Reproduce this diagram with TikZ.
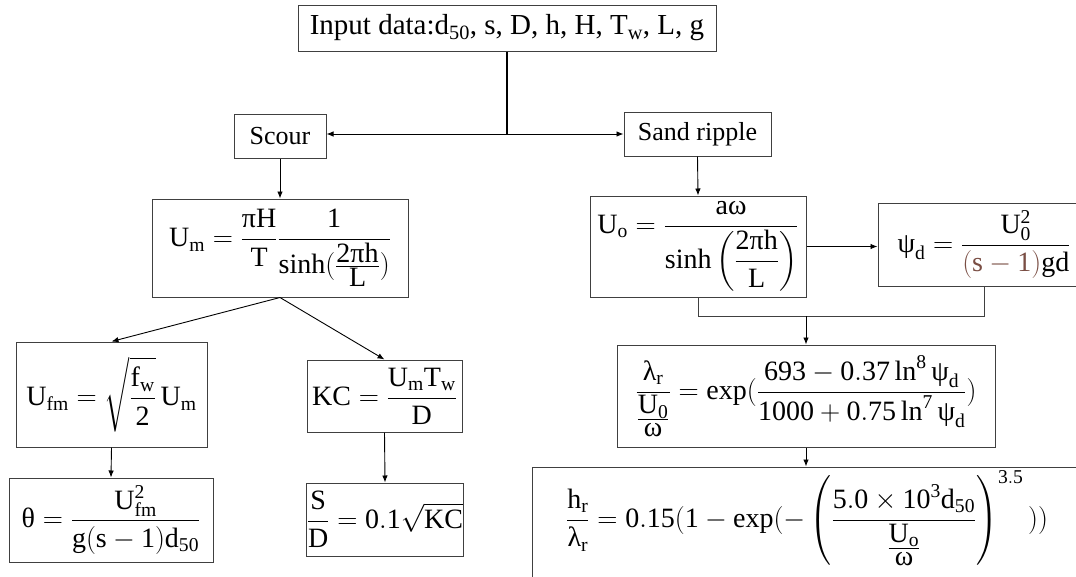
\RequirePackage{fix-cm}
\documentclass[tikz,border=0pt]{standalone}
\usepackage{amsmath}
\usepackage{fontspec}
\setmainfont{Liberation Serif}
\usetikzlibrary{arrows.meta}
\definecolor{edge}{HTML}{404040}
\definecolor{paren}{HTML}{7A4E44}
% upright Greek letters taken from the text font
\newcommand{\gk}[1]{\text{#1}}
% numbers and function names set in the text face
\newcommand{\nm}[1]{\mathrm{#1}}
\newcommand{\fn}[1]{\mathop{\mathrm{#1}}\nolimits}
% compact fraction with full-size numerator and denominator
\newcommand{\cfr}[2]{\tfrac{\textstyle #1}{\textstyle #2}}
\begin{document}
\begin{tikzpicture}[x=1pt, y=-1pt,
  box/.style={draw=edge, line width=1pt, inner sep=0pt, font=\fontsize{28}{34}\selectfont},
  lbl/.style={box, font=\fontsize{26}{30}\selectfont},
  conn/.style={line width=0.9pt, -{Latex[length=7pt,width=5.5pt]}},
  plain/.style={line width=0.9pt, draw=edge}]
\useasboundingbox (0,0) rectangle (1076,576);
\clip (0,0) rectangle (1076,576);

% input data
\node[lbl, font=\fontsize{29}{32}\selectfont, minimum width=418pt, minimum height=46pt] (inp) at (507,28)
  {Input data:d$_{\nm{50}}$, s, D, h, H, T$_{\mathrm{w}}$, L, g};

% two branches
\node[lbl, minimum width=92pt, minimum height=44pt] (scour) at (280,136) {Scour};
\node[lbl, minimum width=147pt, minimum height=44pt] (sand) at (697.5,134) {Sand ripple};

% scour branch
\node[box, minimum width=256pt, minimum height=98pt] (um) at (280,248)
  {$\mathrm{U_m} = \dfrac{\gk{π}\mathrm{H}}{\mathrm{T}}\dfrac{\nm{1}}{\fn{sinh}(\cfr{\nm{2}\gk{π}\mathrm{h}}{\mathrm{L}})}$};
\node[box, minimum width=191pt, minimum height=105pt] (ufm) at (111.5,394.5)
  {$\mathrm{U_{fm}} = \sqrt{\dfrac{\mathrm{f_w}}{\nm{2}}}\,\mathrm{U_m}$};
\node[box, minimum width=155pt, minimum height=72pt] (kc) at (384.5,396)
  {$\mathrm{KC} = \dfrac{\mathrm{U_m T_w}}{\mathrm{D}}$};
\node[box, minimum width=204pt, minimum height=84pt] (theta) at (111,520)
  {$\gk{θ} = \dfrac{\mathrm{U_{fm}^{\nm{2}}}}{\mathrm{g}(\mathrm{s}-\nm{1})\mathrm{d}_{\nm{50}}}$};
\node[box, minimum width=156pt, minimum height=73pt] (sd) at (385,519.5)
  {$\dfrac{\mathrm{S}}{\mathrm{D}} = \nm{0.1}\sqrt{\mathrm{KC}}$};

% sand ripple branch
\node[box, minimum width=216pt, minimum height=101pt] (uo) at (698,246.5)
  {$\mathrm{U_o} = \dfrac{\mathrm{a}\gk{ω}}{\fn{sinh}\left(\dfrac{\nm{2}\gk{π}\mathrm{h}}{\mathrm{L}}\right)}$};
\node[box, minimum width=212pt, minimum height=83pt] (psi) at (984,244.5)
  {$\gk{ψ}_{\mathrm{d}} = \dfrac{\mathrm{U}_{\nm{0}}^{\nm{2}}}{\textcolor{paren}{(\mathrm{s}-\nm{1})}\mathrm{gd}}$};
\node[box, minimum width=378pt, minimum height=102pt] (lam) at (806,396)
  {$\dfrac{\gk{λ}_{\mathrm{r}}}{\cfr{\mathrm{U}_{\nm{0}}}{\gk{ω}}} = \fn{exp}(\dfrac{\nm{693}-\nm{0.37}\fn{ln}^{\nm{8}}\gk{ψ}_{\mathrm{d}}}{\nm{1000}+\nm{0.75}\fn{ln}^{\nm{7}}\gk{ψ}_{\mathrm{d}}})$};
\node[box, minimum width=558pt, minimum height=133pt] (hr) at (811,533.5) {};
\node[font=\fontsize{28}{34}\selectfont, inner sep=0pt, anchor=west] (hrtext) at (566,518)
  {$\dfrac{\mathrm{h_r}}{\gk{λ}_{\mathrm{r}}} = \nm{0.15}(\nm{1}-\fn{exp}(-\left(\dfrac{\nm{5.0}\times\nm{10}^{\nm{3}}\mathrm{d}_{\nm{50}}}{\cfr{\mathrm{U_o}}{\gk{ω}}}\right)^{\nm{3.5}}\,))$};

% connectors
\coordinate (j) at (inp.south |- 0,134);
\draw[line width=2pt] (inp.south) -- (j);
\draw[conn] (j) -- (j -| scour.east);
\draw[conn] (j) -- (j -| sand.west);
\draw[conn] (scour.south) -- (um.north);
\draw[conn] (um.south) -- (ufm.north);
\draw[conn] (um.south) -- (kc.north);
\draw[conn] (ufm.south) -- (theta.north);
\draw[conn] (kc.south) -- (sd.north);
\draw[conn] (sand.south) -- (uo.north);
\draw[conn] (uo.east) -- (uo.east -| psi.west);
\coordinate (m) at (806,316);
\draw[plain] (uo.south) |- (m);
\draw[plain] (m) -| (psi.south);
\draw[conn] (m) -- (lam.north);
\draw[conn] (lam.south) -- (lam.south |- hr.north);
\end{tikzpicture}
\end{document}
